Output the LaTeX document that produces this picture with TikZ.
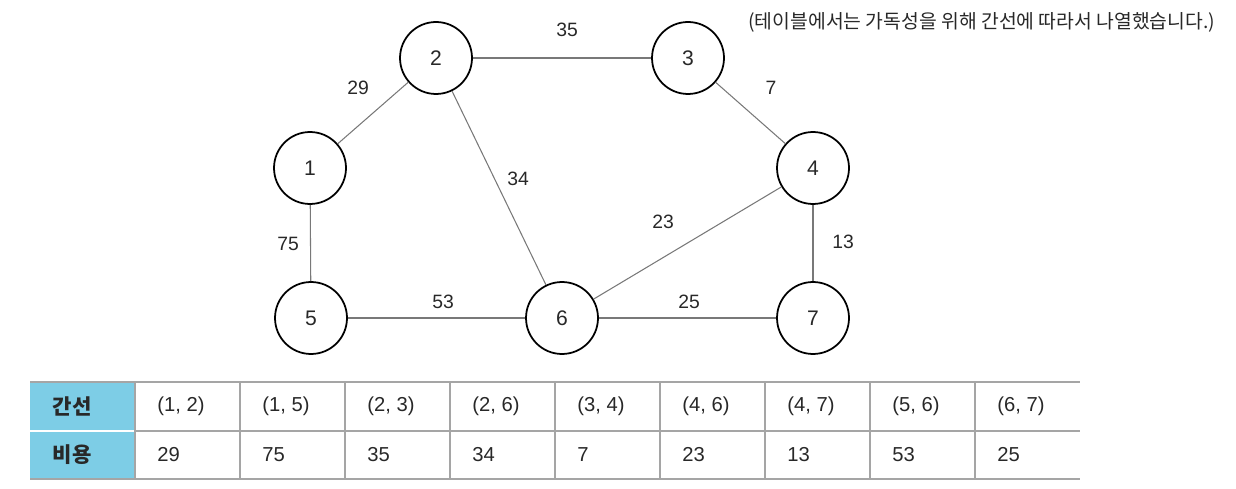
\documentclass[tikz,border=0pt]{standalone}
\usepackage{fontspec}
\setmainfont{Liberation Sans}
\newfontfamily\kr{Noto Sans CJK KR}
\usetikzlibrary{positioning}
\definecolor{headblue}{RGB}{125,205,230}
\definecolor{edgegray}{RGB}{120,120,120}
\definecolor{rulegray}{RGB}{165,165,165}
\definecolor{textgray}{RGB}{40,40,40}
\tikzset
{
    vertex/.style = {circle, draw=black, line width=1pt, minimum size=1.44cm, inner sep=0pt, text=textgray, font=\fontsize{12}{14}\selectfont},
    edge/.style   = {draw=edgegray, line width=0.6pt},
    weight/.style = {inner sep=1pt, text=textgray, font=\fontsize{11}{13}\selectfont},
    cell/.style   = {anchor=west, inner sep=0pt, text=textgray, font=\fontsize{11.5}{14}\selectfont},
    headcell/.style = {inner sep=0pt, text=textgray, font=\kr\bfseries\fontsize{12}{14}\selectfont},
    tablerule/.style = {draw=rulegray, line width=1pt}
}

\begin{document}
\begin{tikzpicture}[x=0.02cm, y=-0.02cm]
    \useasboundingbox (0,0) rectangle (1236,489);
    % vertices
    \node [vertex] (n1) at (310,168) {1};
    \node [vertex] (n2) at (436,58) {2};
    \node [vertex] (n3) at (688,58) {3};
    \node [vertex] (n4) at (813,168) {4};
    \node [vertex] (n5) at (311,318) {5};
    \node [vertex] (n6) at (562,318) {6};
    \node [vertex] (n7) at (813,318) {7};
    % edges
    \draw [edge] (n1) -- (n2);
    \draw [edge] (n2) -- (n3);
    \draw [edge] (n3) -- (n4);
    \draw [edge] (n2) -- (n6);
    \draw [edge] (n4) -- (n6);
    \draw [edge] (n4) -- (n7);
    \draw [edge] (n1) -- (n5);
    \draw [edge] (n5) -- (n6);
    \draw [edge] (n6) -- (n7);
    % weights
    \node [weight] (w12) at (358,88) {29};
    \node [weight] (w23) at (567,30) {35};
    \node [weight] (w34) at (771,88) {7};
    \node [weight] (w26) at (518,179) {34};
    \node [weight] (w46) at (663,222) {23};
    \node [weight] (w47) at (843,242) {13};
    \node [weight] (w15) at (288,244) {75};
    \node [weight] (w56) at (443,302) {53};
    \node [weight] (w67) at (689,302) {25};
    % note
    \node [anchor=west, inner sep=0pt, text=textgray, font=\kr\fontsize{11}{13}\selectfont] (note) at (748,22) {(테이블에서는 가독성을 위해 간선에 따라서 나열했습니다.)};
    % table
    \fill [headblue] (30,382) rectangle (135,479);
    \draw [white, line width=1pt] (30,431) -- (135,431);
    \draw [tablerule] (30,382) -- (1080,382);
    \draw [tablerule] (135,431) -- (1080,431);
    \draw [tablerule] (30,479) -- (1080,479);
    \foreach \x in {135,240,...,975}
        \draw [tablerule] (\x,382) -- (\x,479);
    \node [headcell] (hedge) at (72,406) {간선};
    \node [headcell] (hcost) at (72,455) {비용};
    \foreach \e/\c [count=\i from 0] in {{(1, 2)}/29,{(1, 5)}/75,{(2, 3)}/35,{(2, 6)}/34,{(3, 4)}/7,{(4, 6)}/23,{(4, 7)}/13,{(5, 6)}/53,{(6, 7)}/25}
    {
        \node [cell] (e\i) at (157+105*\i,406) {\e};
        \node [cell] (c\i) at (157+105*\i,455) {\c};
    }
\end{tikzpicture}
\end{document}
